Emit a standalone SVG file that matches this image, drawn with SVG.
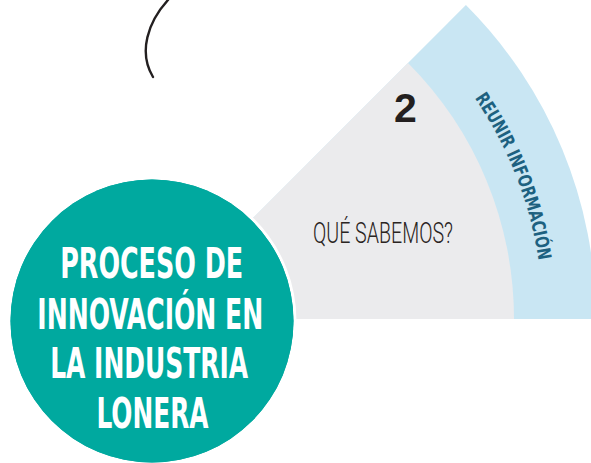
<svg xmlns="http://www.w3.org/2000/svg" width="591" height="463" viewBox="0 0 591 463">
  <style>
    .narrow { font-family: "Liberation Sans Narrow", "DejaVu Sans Condensed", "Liberation Sans", sans-serif; }
    .title { font-size: 42px; font-weight: bold; fill: #ffffff; text-anchor: middle; }
    .band { font-size: 18.5px; font-weight: bold; fill: #1d6180; }
    .ink { fill: #231f20; }
  </style>
  <defs>
    <path id="bandArc" d="M428.5,42.5 A391,391 0 0 1 542.8,332.6" fill="none"/>
  </defs>

  <g id="curve">
    <path d="M168,0 C148,22 138,52 153,77" fill="none" stroke="#231f20" stroke-width="2.4" stroke-linecap="round"/>
  </g>

  <g id="reunir-informacion">
    <path d="M152,319 L596,319 A444,444 0 0 0 465.9,5.1 Z" fill="#c9e6f3"/>
    <text class="narrow band"><textPath href="#bandArc" startOffset="50%" text-anchor="middle" textLength="176" lengthAdjust="spacingAndGlyphs">REUNIR INFORMACIÓN</textPath></text>
  </g>

  <g id="que-sabemos">
    <path d="M152,319 L514,319 A362,362 0 0 0 408,63 Z" fill="#ebebed"/>
    <text x="394" y="122" font-family="'Liberation Sans', sans-serif" font-size="41" font-weight="bold" fill="#231f20">2</text>
    <text x="313" y="243" font-family="Roboto, 'DejaVu Sans', sans-serif" font-weight="300" font-size="29" textLength="140" lengthAdjust="spacingAndGlyphs" fill="#2a2422">QUÉ SABEMOS?</text>
  </g>

  <g id="proceso">
    <circle cx="152" cy="321" r="141.5" fill="#00a99f" stroke="#ffffff" stroke-width="6" paint-order="stroke"/>
    <circle cx="152" cy="321" r="141.5" fill="#00a99f"/>
    <text class="narrow title" x="151.7" y="278.3" textLength="183" lengthAdjust="spacingAndGlyphs">PROCESO DE</text>
    <text class="narrow title" x="150.3" y="329.3" textLength="226" lengthAdjust="spacingAndGlyphs">INNOVACIÓN EN</text>
    <text class="narrow title" x="149.2" y="378.3" textLength="198" lengthAdjust="spacingAndGlyphs">LA INDUSTRIA</text>
    <text class="narrow title" x="152.5" y="428.3" textLength="112" lengthAdjust="spacingAndGlyphs">LONERA</text>
  </g>
</svg>
